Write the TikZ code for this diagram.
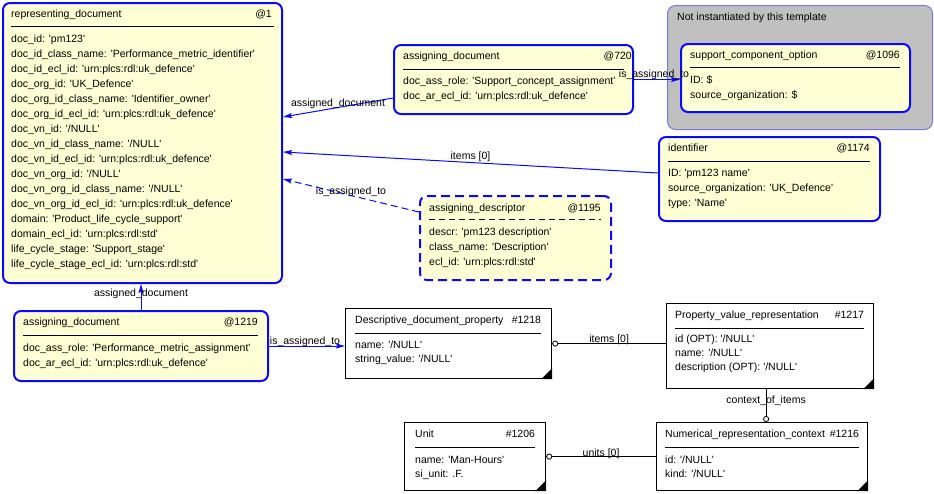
\documentclass[tikz,border=0pt]{standalone}
\usepackage{fontspec}
\setmainfont{Liberation Sans}[Ligatures=TeXOff]
\usetikzlibrary{arrows.meta,positioning}
\definecolor{inst_fill}{RGB}{255,255,213}
\definecolor{inst_blue}{RGB}{10,10,250}
\definecolor{group_fill}{RGB}{192,192,192}
\definecolor{group_edge}{RGB}{120,120,225}

\begin{document}
\begin{tikzpicture}[x=1pt,y=-1pt,>={Stealth[length=9pt,width=5pt,inset=1.5pt]},font=\fontsize{10.5}{12}\selectfont]
    \tikzstyle{instance}=[draw=inst_blue, fill=inst_fill, line width=2pt, rounded corners=7pt, inner sep=0pt, anchor=north west]
    \tikzstyle{instdashed}=[style=instance, dash pattern=on 9pt off 5pt]
    \tikzstyle{entity}=[draw=black, fill=white, line width=1.2pt, inner sep=0pt, anchor=north west]
    \tikzstyle{group}=[draw=group_edge, fill=group_fill, line width=1pt, rounded corners=8pt, inner sep=0pt, anchor=north west]
    \tikzstyle{hdrname}=[anchor=base west, inner sep=0pt, text=black]
    \tikzstyle{hdrid}=[anchor=base east, inner sep=0pt, text=black]
    \tikzstyle{attr}=[anchor=base west, inner sep=0pt, text=black]
    \tikzstyle{sepline}=[draw=black, line width=0.8pt]
    \tikzstyle{refline}=[draw=inst_blue, line width=1pt, ->]
    \tikzstyle{relline}=[draw=black, line width=0.9pt, -{Circle[open,length=6pt,line width=0.8pt]}]
    \tikzstyle{rolename}=[text=black, inner sep=0pt]

    \useasboundingbox (0,0) rectangle (934,493);

    % template group
    \node[group, minimum width=265, minimum height=124] (grp) at (667,5) {};
    \node[attr] (grp-title) at ([shift={(10,15)}]grp.north west) {Not instantiated by this template};

    % representing_document
    \node[instance, minimum width=279, minimum height=280] (repdoc) at (2,2) {};
    \node[hdrname] (repdoc-n) at ([shift={(9,15)}]repdoc.north west) {representing\_document};
    \node[hdrid] (repdoc-i) at ([shift={(-11,15)}]repdoc.north east) {@1};
    \draw[sepline] ([shift={(9,24)}]repdoc.north west) -- ([shift={(-9,24)}]repdoc.north east);
    \foreach \t [count=\i] in {doc\_id: 'pm123', doc\_id\_class\_name: 'Performance\_metric\_identifier',
        doc\_id\_ecl\_id: 'urn:plcs:rdl:uk\_defence', doc\_org\_id: 'UK\_Defence',
        doc\_org\_id\_class\_name: 'Identifier\_owner', doc\_org\_id\_ecl\_id: 'urn:plcs:rdl:uk\_defence',
        doc\_vn\_id: '/NULL', doc\_vn\_id\_class\_name: '/NULL', doc\_vn\_id\_ecl\_id: 'urn:plcs:rdl:uk\_defence',
        doc\_vn\_org\_id: '/NULL', doc\_vn\_org\_id\_class\_name: '/NULL',
        doc\_vn\_org\_id\_ecl\_id: 'urn:plcs:rdl:uk\_defence', domain: 'Product\_life\_cycle\_support',
        domain\_ecl\_id: 'urn:plcs:rdl:std', life\_cycle\_stage: 'Support\_stage',
        life\_cycle\_stage\_ecl\_id: 'urn:plcs:rdl:std'}
      \node[attr] (repdoc-a\i) at ([shift={(9,25+15*\i)}]repdoc.north west) {\t};

    % assigning_document @720
    \node[instance, minimum width=239, minimum height=69] (ad720) at (393,44) {};
    \node[hdrname] (ad720-n) at ([shift={(10,15)}]ad720.north west) {assigning\_document};
    \node[hdrid] (ad720-i) at ([shift={(-2,15)}]ad720.north east) {@720};
    \draw[sepline] ([shift={(10,25)}]ad720.north west) -- ([shift={(-10,25)}]ad720.north east);
    \foreach \t [count=\i] in {doc\_ass\_role: 'Support\_concept\_assignment', doc\_ar\_ecl\_id: 'urn:plcs:rdl:uk\_defence'}
      \node[attr] (ad720-a\i) at ([shift={(10,25+15*\i)}]ad720.north west) {\t};

    % support_component_option @1096
    \node[instance, minimum width=229, minimum height=68] (sco) at (680,43) {};
    \node[hdrname] (sco-n) at ([shift={(10,15)}]sco.north west) {support\_component\_option};
    \node[hdrid] (sco-i) at ([shift={(-11,15)}]sco.north east) {@1096};
    \draw[sepline] ([shift={(10,24)}]sco.north west) -- ([shift={(-11,24)}]sco.north east);
    \foreach \t [count=\i] in {ID: \$, source\_organization: \$}
      \node[attr] (sco-a\i) at ([shift={(10,25+15*\i)}]sco.north west) {\t};

    % identifier @1174
    \node[instance, minimum width=221, minimum height=84] (ident) at (658,136) {};
    \node[hdrname] (ident-n) at ([shift={(10,15)}]ident.north west) {identifier};
    \node[hdrid] (ident-i) at ([shift={(-11,15)}]ident.north east) {@1174};
    \draw[sepline] ([shift={(10,25)}]ident.north west) -- ([shift={(-11,25)}]ident.north east);
    \foreach \t [count=\i] in {ID: 'pm123 name', source\_organization: 'UK\_Defence', type: 'Name'}
      \node[attr] (ident-a\i) at ([shift={(10,25+15*\i)}]ident.north west) {\t};

    % assigning_descriptor @1195
    \node[instdashed, minimum width=191, minimum height=84] (desc) at (419,195) {};
    \node[hdrname] (desc-n) at ([shift={(10,16)}]desc.north west) {assigning\_descriptor};
    \node[hdrid] (desc-i) at ([shift={(-11,16)}]desc.north east) {@1195};
    \draw[sepline, dash pattern=on 6pt off 4pt] ([shift={(10,24)}]desc.north west) -- ([shift={(-11,24)}]desc.north east);
    \foreach \t [count=\i] in {descr: 'pm123 description', class\_name: 'Description', ecl\_id: 'urn:plcs:rdl:std'}
      \node[attr] (desc-a\i) at ([shift={(10,25+15*\i)}]desc.north west) {\t};

    % assigning_document @1219
    \node[instance, minimum width=254, minimum height=70] (ad1219) at (13,310) {};
    \node[hdrname] (ad1219-n) at ([shift={(10,15)}]ad1219.north west) {assigning\_document};
    \node[hdrid] (ad1219-i) at ([shift={(-11,15)}]ad1219.north east) {@1219};
    \draw[sepline] ([shift={(10,25)}]ad1219.north west) -- ([shift={(-11,25)}]ad1219.north east);
    \foreach \t [count=\i] in {doc\_ass\_role: 'Performance\_metric\_assignment', doc\_ar\_ecl\_id: 'urn:plcs:rdl:uk\_defence'}
      \node[attr] (ad1219-a\i) at ([shift={(10,26+15*\i)}]ad1219.north west) {\t};

    % Descriptive_document_property #1218
    \node[entity, minimum width=206, minimum height=70] (ddp) at (345,308) {};
    \node[hdrname] (ddp-n) at ([shift={(10,15)}]ddp.north west) {Descriptive\_document\_property};
    \node[hdrid] (ddp-i) at ([shift={(-11,15)}]ddp.north east) {\#1218};
    \draw[sepline] ([shift={(10,25)}]ddp.north west) -- ([shift={(-11,25)}]ddp.north east);
    \fill ([xshift=-11pt]ddp.south east) -- (ddp.south east) -- ([yshift=11pt]ddp.south east) -- cycle;
    \foreach \t [count=\i] in {name: '/NULL', string\_value: '/NULL'}
      \node[attr] (ddp-a\i) at ([shift={(10,26+14*\i)}]ddp.north west) {\t};

    % Property_value_representation #1217
    \node[entity, minimum width=207, minimum height=85] (pvr) at (666,303) {};
    \node[hdrname] (pvr-n) at ([shift={(9,15)}]pvr.north west) {Property\_value\_representation};
    \node[hdrid] (pvr-i) at ([shift={(-10,15)}]pvr.north east) {\#1217};
    \draw[sepline] ([shift={(9,25)}]pvr.north west) -- ([shift={(-10,25)}]pvr.north east);
    \fill ([xshift=-11pt]pvr.south east) -- (pvr.south east) -- ([yshift=11pt]pvr.south east) -- cycle;
    \foreach \t [count=\i] in {id (OPT): '/NULL', name: '/NULL', description (OPT): '/NULL'}
      \node[attr] (pvr-a\i) at ([shift={(9,25+14*\i)}]pvr.north west) {\t};

    % Unit #1206
    \node[entity, minimum width=141, minimum height=68] (unit) at (404,422) {};
    \node[hdrname] (unit-n) at ([shift={(11,15)}]unit.north west) {Unit};
    \node[hdrid] (unit-i) at ([shift={(-11,15)}]unit.north east) {\#1206};
    \draw[sepline] ([shift={(11,25)}]unit.north west) -- ([shift={(-11,25)}]unit.north east);
    \fill ([xshift=-11pt]unit.south east) -- (unit.south east) -- ([yshift=11pt]unit.south east) -- cycle;
    \foreach \t [count=\i] in {name: 'Man-Hours', si\_unit: .F.}
      \node[attr] (unit-a\i) at ([shift={(11,27+14*\i)}]unit.north west) {\t};

    % Numerical_representation_context #1216
    \node[entity, minimum width=211, minimum height=68] (nrc) at (656,422) {};
    \node[hdrname] (nrc-n) at ([shift={(9,15)}]nrc.north west) {Numerical\_representation\_context};
    \node[hdrid] (nrc-i) at ([shift={(-9,15)}]nrc.north east) {\#1216};
    \draw[sepline] ([shift={(9,25)}]nrc.north west) -- ([shift={(-9,25)}]nrc.north east);
    \fill ([xshift=-11pt]nrc.south east) -- (nrc.south east) -- ([yshift=11pt]nrc.south east) -- cycle;
    \foreach \t [count=\i] in {id: '/NULL', kind: '/NULL'}
      \node[attr] (nrc-a\i) at ([shift={(9,27+14*\i)}]nrc.north west) {\t};

    % references between instances
    \draw[refline] ([yshift=-18.5pt]ad720.west) -- node[rolename, yshift=3.5pt] (lbl-ad720) {assigned\_document} ([yshift=26pt]repdoc.east);
    \draw[refline] (ad720.east) -- node[rolename, yshift=4.5pt, xshift=-3pt] (lbl-sco) {is\_assigned\_to} (ad720.east -| sco.west);
    \draw[refline] ([yshift=6pt]ident.west) -- node[rolename, yshift=5.5pt] (lbl-ident) {items [0]} ([yshift=-9pt]repdoc.east);
    \draw[refline, dash pattern=on 7pt off 4pt] ([yshift=26pt]desc.west) -- node[rolename, yshift=3.5pt] (lbl-desc) {is\_assigned\_to} ([yshift=-36pt]repdoc.east);
    \draw[refline] (ad1219.north) -- node[rolename, yshift=3pt] (lbl-ad1219) {assigned\_document} (ad1219.north |- repdoc.south);
    \draw[refline] (ad1219.east) -- node[rolename, yshift=4.5pt, xshift=-2pt] (lbl-ddp) {is\_assigned\_to} (ad1219.east -| ddp.west);

    % entity relations
    \draw[relline] (pvr.west |- ddp.east) -- node[rolename, yshift=4pt] (lbl-items) {items [0]} (ddp.east);
    \draw[relline] ([xshift=-4pt]pvr.south) -- node[rolename, yshift=5pt] (lbl-ctx) {context\_of\_items} ([xshift=-4pt]pvr.south |- nrc.north);
    \draw[relline] (nrc.west) -- node[rolename, yshift=3pt] (lbl-units) {units [0]} (unit.east);
\end{tikzpicture}
\end{document}
